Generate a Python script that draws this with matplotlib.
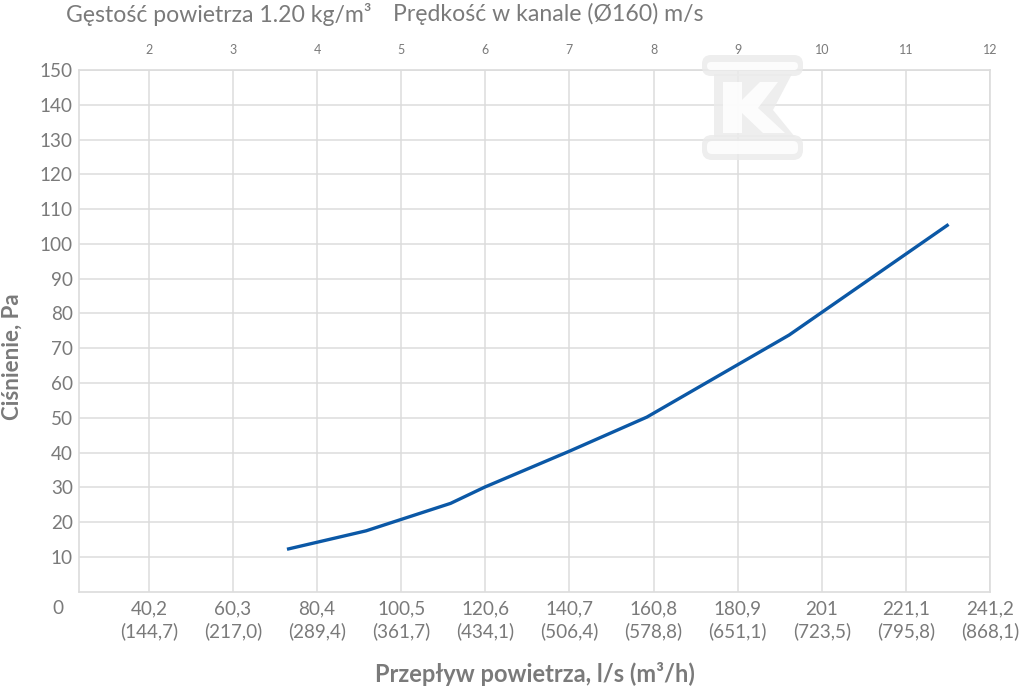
"""Pressure drop vs air flow for a Ø160 duct fitting."""

import matplotlib

matplotlib.use("Agg")
import matplotlib.pyplot as plt
from matplotlib.patches import FancyBboxPatch, Polygon
from matplotlib.transforms import IdentityTransform

# data
flow_ls = [73.2, 92.1, 112.3, 120.5, 140.5, 159.2, 193.2, 231.3]
pressure_pa = [12.2, 17.5, 25.4, 30.1, 40.3, 50.2, 73.8, 105.6]

flow_ticks = [40.2, 60.3, 80.4, 100.5, 120.6, 140.7, 160.8, 180.9, 201, 221.1, 241.2]
flow_tick_labels = [
    "40,2\n(144,7)", "60,3\n(217,0)", "80,4\n(289,4)", "100,5\n(361,7)",
    "120,6\n(434,1)", "140,7\n(506,4)", "160,8\n(578,8)", "180,9\n(651,1)",
    "201\n(723,5)", "221,1\n(795,8)", "241,2\n(868,1)",
]
velocity_ticks = [2, 3, 4, 5, 6, 7, 8, 9, 10, 11, 12]
pressure_ticks = [10, 20, 30, 40, 50, 60, 70, 80, 90, 100, 110, 120, 130, 140, 150]

DUCT_AREA_DM2 = 20.1  # l/s per m/s for Ø160

TEXT = "#7a7a7a"
GRID = "#dcdcdc"
LINE = "#0b58a6"

plt.rcParams["font.family"] = ["Lato", "DejaVu Sans"]

W, H = 1024, 692
fig = plt.figure(figsize=(W / 100, H / 100), dpi=100)
fig.patch.set_facecolor("white")

left, right, top, bottom = 79, 990, 70, 591.7
ax = fig.add_axes([left / W, 1 - bottom / H, (right - left) / W, (bottom - top) / H])

ax.plot(flow_ls, pressure_pa, color=LINE, linewidth=2.4, solid_capstyle="butt", zorder=5)

ax.set_xlim(23.5, 241.2)
ax.set_ylim(0, 150)
ax.set_xticks(flow_ticks)
ax.set_xticklabels(flow_tick_labels, linespacing=1.3)
ax.set_yticks(pressure_ticks)
ax.tick_params(axis="both", length=0, colors=TEXT, labelsize=13.6)
ax.tick_params(axis="x", pad=6.5)
ax.tick_params(axis="y", pad=4.5)
ax.grid(True, color=GRID, linewidth=1.1)
ax.set_axisbelow(True)
for spine in ax.spines.values():
    spine.set_color(GRID)
    spine.set_linewidth(1.2)

top_ax = ax.secondary_xaxis(
    "top", functions=(lambda q: q / DUCT_AREA_DM2, lambda v: v * DUCT_AREA_DM2)
)
top_ax.set_xticks(velocity_ticks)
top_ax.set_xticklabels([str(v) for v in velocity_ticks])
top_ax.tick_params(length=0, colors=TEXT, labelsize=9, pad=10)
top_ax.spines["top"].set_visible(False)

# origin label sits below the corner
fig.text(58 / W, 1 - 609 / H, "0", color=TEXT, fontsize=13.6, ha="center", va="center")

fig.text(66 / W, 1 - 14 / H, "Gęstość powietrza 1.20 kg/m³", color=TEXT,
         fontsize=16.6, ha="left", va="center")
fig.text(393 / W, 1 - 14 / H, "Prędkość w kanale (Ø160) m/s", color=TEXT,
         fontsize=16.6, ha="left", va="center")

fig.text(535 / W, 1 - 674 / H, "Przepływ powietrza, l/s (m³/h)", color=TEXT,
         fontsize=17, fontweight="bold", ha="center", va="center")
fig.text(12 / W, 1 - 357 / H, "Ciśnienie, Pa", color=TEXT, fontsize=16,
         fontweight="bold", ha="center", va="center", rotation=90)


# faint logo watermark, drawn in pixel coordinates
def px(x, y):
    return (x, H - y)


def rounded(x0, y0, x1, y1, r, color):
    p = FancyBboxPatch(px(x0 + r, y1 - r), (x1 - x0) - 2 * r, (y1 - y0) - 2 * r,
                       boxstyle=f"round,pad={r}", transform=IdentityTransform(),
                       facecolor=color, edgecolor="none", alpha=0.85, zorder=2)
    fig.add_artist(p)


LOGO = "#ebebeb"
rounded(702, 55, 803, 76, 9, LOGO)
rounded(702, 135, 803, 160, 10, LOGO)
fig.add_artist(Polygon([px(714, 74), px(792, 74), px(773, 110), px(795, 137), px(714, 137)],
                       closed=True, transform=IdentityTransform(), facecolor=LOGO,
                       edgecolor="none", alpha=0.85, zorder=2))
rounded(707, 62, 798, 70, 4, "white")
rounded(707, 141, 798, 154, 5, "white")
k_shape = [(723, 82), (742, 82), (742, 100), (760, 82), (778, 82), (758, 108),
           (785, 133), (763, 133), (742, 113), (742, 133), (723, 133)]
fig.add_artist(Polygon([px(x, y) for x, y in k_shape], closed=True,
                       transform=IdentityTransform(), facecolor="white",
                       edgecolor="none", alpha=0.85, zorder=2))

fig.savefig("out.png", dpi=100)
